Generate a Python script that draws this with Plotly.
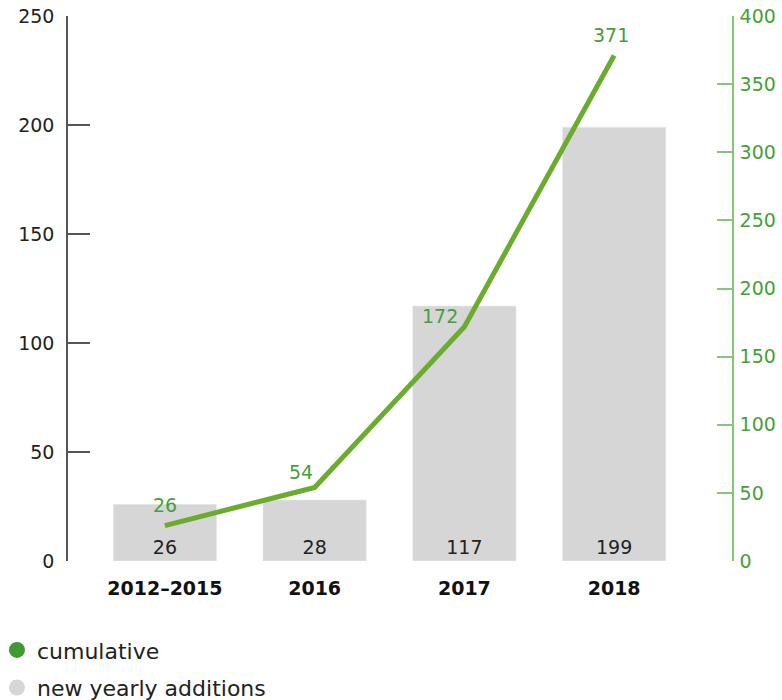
import plotly.graph_objects as go

categories = ["2012–2015", "2016", "2017", "2018"]
new_yearly = [26, 28, 117, 199]
cumulative = [26, 54, 172, 371]

FONT = "DejaVu Sans"
GREEN_LINE = "#6aad2e"
GREEN_TEXT = "#45a03a"
GREEN_AXIS = "#86c57a"
GREY_BAR = "#d6d6d6"

# label offsets (pixels) for the cumulative labels
label_dx = [0, -14, -24, -3]
label_dy = [21, 15, 11, 21]

fig = go.Figure()

fig.add_trace(go.Bar(
    x=categories, y=new_yearly, marker_color=GREY_BAR, width=0.69,
    text=[str(v) for v in new_yearly], textposition="inside",
    insidetextanchor="start", textangle=0,
    textfont=dict(family=FONT, size=19, color="#222222"),
    showlegend=False, yaxis="y", hoverinfo="skip",
))

fig.add_trace(go.Scatter(
    x=categories, y=cumulative, mode="lines",
    line=dict(color=GREEN_LINE, width=5),
    showlegend=False, yaxis="y2", cliponaxis=False,
))

for i, (v, dx, dy) in enumerate(zip(cumulative, label_dx, label_dy)):
    fig.add_annotation(
        x=i, y=v, xref="x", yref="y2", text=str(v), showarrow=False,
        xshift=dx, yshift=dy,
        font=dict(family=FONT, size=19, color=GREEN_TEXT),
    )

# legend entries
fig.add_trace(go.Scatter(
    x=[None], y=[None], mode="markers", name="cumulative",
    marker=dict(symbol="circle", size=16, color="#3f9a2f"),
    legendgroup="a",
))
fig.add_trace(go.Scatter(
    x=[None], y=[None], mode="markers", name="new yearly additions",
    marker=dict(symbol="circle", size=16, color=GREY_BAR),
    legendgroup="b",
))

fig.update_layout(
    width=782, height=700,
    margin=dict(l=68, r=50, t=16, b=139, autoexpand=False),
    paper_bgcolor="white", plot_bgcolor="white",
    font=dict(family=FONT, size=19, color="#222222"),
    xaxis=dict(
        type="category",
        range=[-0.647, 3.787], showgrid=False, zeroline=False,
        showline=False, ticks="", automargin=False,
        tickfont=dict(family=FONT, size=19, color="#111111", weight="bold"),
        ticklabelstandoff=14,
    ),
    yaxis=dict(
        range=[0, 250], tickvals=[0, 50, 100, 150, 200, 250],
        showgrid=False, zeroline=False, automargin=False,
        showline=True, linecolor="#555555", linewidth=1.5,
        ticks="inside", ticklen=22, tickcolor="#555555", tickwidth=1.5,
        tickfont=dict(family=FONT, size=19, color="#222222"),
        ticklabelstandoff=8,
    ),
    yaxis2=dict(
        range=[0, 400], tickvals=[0, 50, 100, 150, 200, 250, 300, 350, 400],
        overlaying="y", side="right", automargin=False,
        showgrid=False, zeroline=False,
        showline=True, linecolor=GREEN_AXIS, linewidth=1.5,
        ticks="inside", ticklen=15, tickcolor=GREEN_AXIS, tickwidth=1.5,
        tickfont=dict(family=FONT, size=19, color=GREEN_TEXT),
        ticklabelstandoff=2,
    ),
    legend=dict(
        x=-0.107, xanchor="left", y=-0.125, yanchor="top",
        orientation="v", traceorder="grouped", tracegroupgap=6,
        font=dict(family=FONT, size=22, color="#222222"),
        bgcolor="rgba(0,0,0,0)",
    ),
)

fig.write_html("out.html")
